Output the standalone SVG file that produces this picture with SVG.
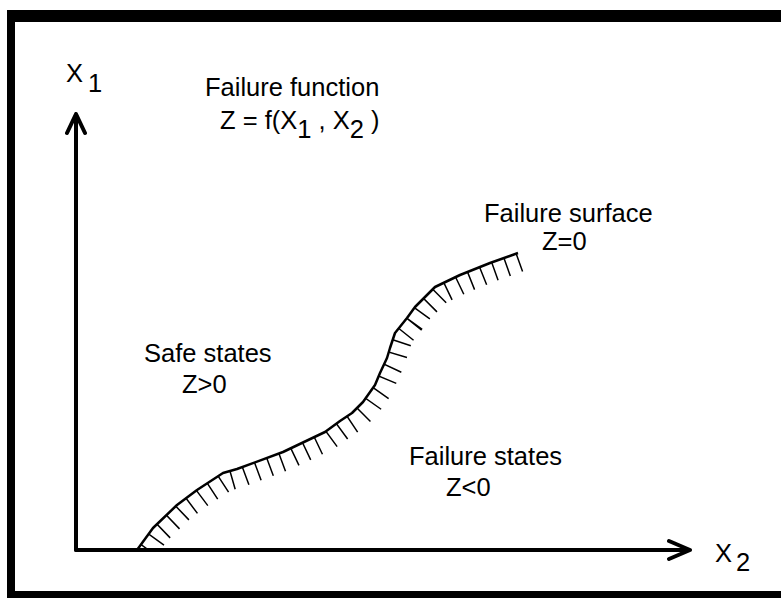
<svg xmlns="http://www.w3.org/2000/svg" width="781" height="598" viewBox="0 0 781 598">
  <style>
    .lbl { font-family: "Liberation Sans", Arial, sans-serif; font-size: 25.5px; fill: #000; }
    .axis { fill: none; stroke: #000; stroke-width: 4; stroke-linecap: round; stroke-linejoin: round; }
    .curve { fill: none; stroke: #000; stroke-width: 2.5; stroke-linejoin: round; }
    .hatch { fill: none; stroke: #000; stroke-width: 38; stroke-dasharray: 1.5 11.5; stroke-dashoffset: -6; }
  </style>
  <defs>
    <clipPath id="lowerSide">
      <polygon points="137,550 153,528 177,505 197,490 223,473 237,469 283,452 325,432 340,421 352,413 363,402 375,385 380,373 387,358 390,348 395,333 407,318 415,307 435,287 460,275 490,263 518,253 545,262 560,548 137,548"/>
    </clipPath>
  </defs>
  <rect x="0" y="0" width="781" height="598" fill="#fff"/>
  <g id="frame">
    <rect x="7" y="10" width="774" height="12" fill="#000"/>
    <rect x="7" y="10" width="8" height="588" fill="#000"/>
    <rect x="7" y="591" width="774" height="7" fill="#000"/>
  </g>
  <g id="surface">
    <polyline class="hatch" clip-path="url(#lowerSide)" points="137,550 153,528 177,505 197,490 223,473 237,469 283,452 325,432 340,421 352,413 363,402 375,385 380,373 387,358 390,348 395,333 407,318 415,307 435,287 460,275 490,263 518,253"/>
    <polyline class="curve" points="137,550 153,528 177,505 197,490 223,473 237,469 283,452 325,432 340,421 352,413 363,402 375,385 380,373 387,358 390,348 395,333 407,318 415,307 435,287 460,275 490,263 518,253"/>
  </g>
  <g id="connectors">
    <path class="axis" d="M76,550 L76,114 M67,133 L76,114 L85,133"/>
    <path class="axis" d="M76,550 L690,550 M669,541 L690,550 L669,559"/>
  </g>
  <g id="axis-x1">
    <text class="lbl" x="66" y="82">X<tspan x="88" y="92">1</tspan></text>
  </g>
  <g id="failure-function">
    <text class="lbl" x="205" y="96">Failure function</text>
    <text class="lbl" x="220" y="129">Z = f(X<tspan dy="9">1</tspan><tspan dy="-9"> , X</tspan><tspan dy="9">2</tspan><tspan dy="-9"> )</tspan></text>
  </g>
  <g id="failure-surface">
    <text class="lbl" x="484" y="222">Failure surface</text>
    <text class="lbl" x="542" y="250">Z=0</text>
  </g>
  <g id="safe-states">
    <text class="lbl" x="144" y="362">Safe states</text>
    <text class="lbl" x="182" y="393">Z&gt;0</text>
  </g>
  <g id="failure-states">
    <text class="lbl" x="409" y="465">Failure states</text>
    <text class="lbl" x="446" y="496">Z&lt;0</text>
  </g>
  <g id="axis-x2">
    <text class="lbl" x="715" y="562">X<tspan x="736" y="571">2</tspan></text>
  </g>
</svg>
